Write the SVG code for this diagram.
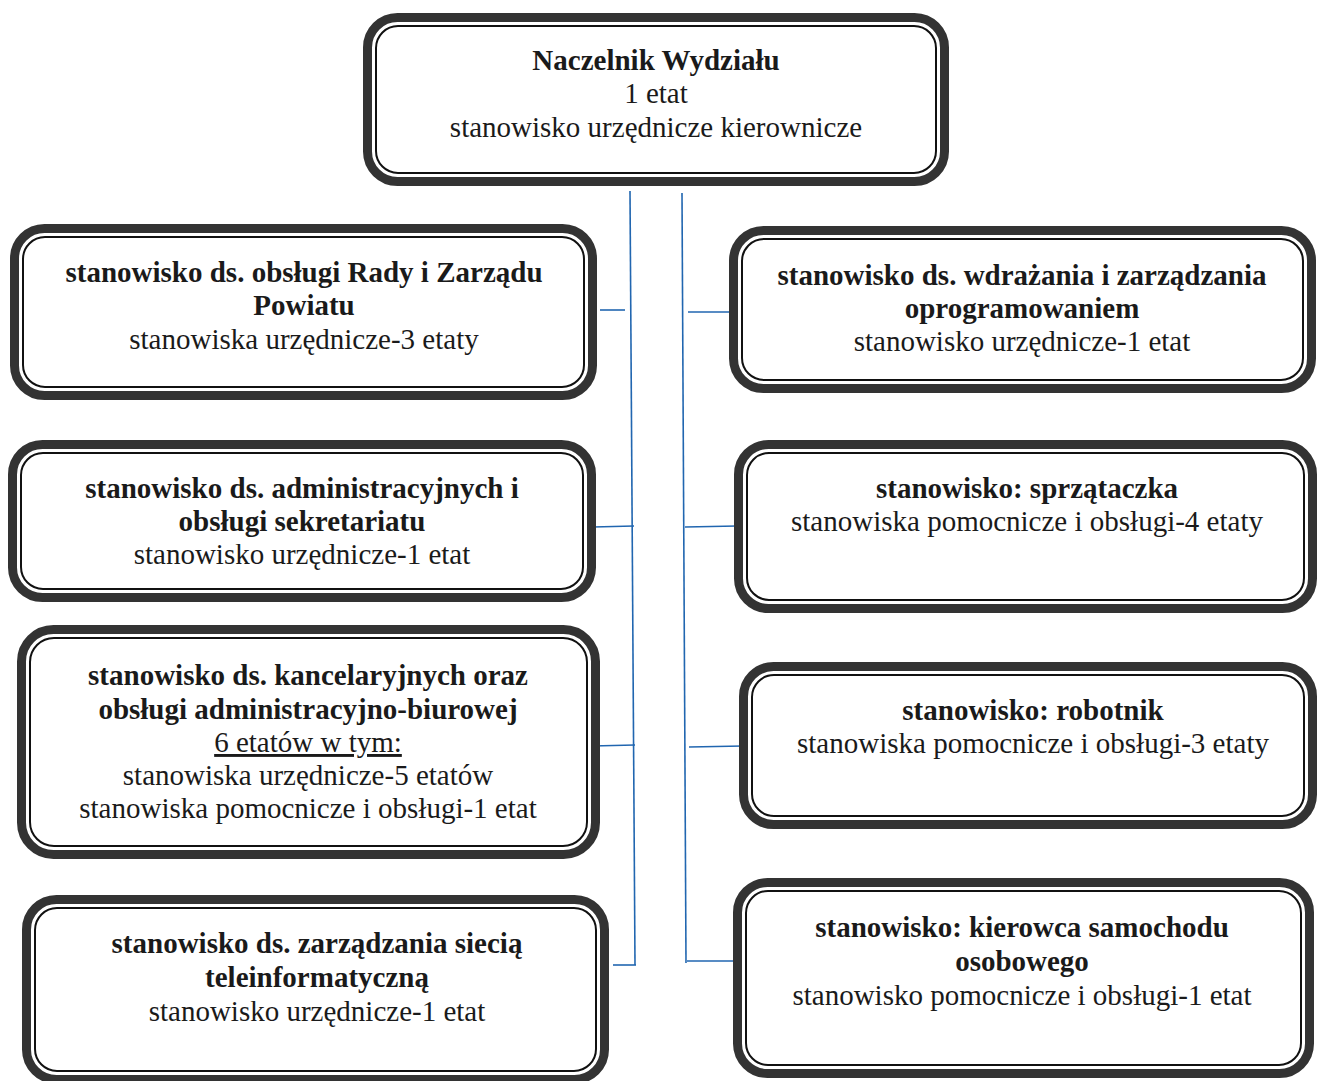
<svg xmlns="http://www.w3.org/2000/svg" width="1317" height="1081" viewBox="0 0 1317 1081">
<style>
.o{fill:#fff;stroke:#333;stroke-width:9}
.i{fill:none;stroke:#111;stroke-width:2}
text{font-family:"Liberation Serif","Times New Roman",serif;font-size:29px;fill:#1a1a1a;text-anchor:middle}
.b{font-weight:bold}
.c line{stroke:#2166b0;stroke-width:1.6}
</style>
<rect width="1317" height="1081" fill="#fff"/>
<g class="c" id="connectors">
<line x1="630" y1="191" x2="635" y2="965"/>
<line x1="682" y1="193" x2="686" y2="963"/>
<line x1="600" y1="310" x2="625" y2="310"/>
<line x1="593" y1="527" x2="634" y2="526"/>
<line x1="592" y1="746" x2="635" y2="745"/>
<line x1="613" y1="965" x2="636" y2="965"/>
<line x1="688" y1="312" x2="733" y2="312"/>
<line x1="685" y1="527" x2="737" y2="526"/>
<line x1="689" y1="747" x2="743" y2="746"/>
<line x1="687" y1="961" x2="733" y2="961"/>
</g>
<g id="n-top">
<rect class="o" x="367.5" y="17.5" width="577" height="164" rx="30"/>
<rect class="i" x="376" y="26" width="560" height="147" rx="22"/>
<text x="656" y="70" class="b">Naczelnik Wydziału</text>
<text x="656" y="103">1 etat</text>
<text x="656" y="137">stanowisko urzędnicze kierownicze</text>
</g>
<g id="n-l1">
<rect class="o" x="14.5" y="228.5" width="578" height="167" rx="30"/>
<rect class="i" x="23" y="237" width="561" height="150" rx="22"/>
<text x="304" y="282" class="b">stanowisko ds. obsługi Rady i Zarządu</text>
<text x="304" y="315" class="b">Powiatu</text>
<text x="304" y="349">stanowiska urzędnicze-3 etaty</text>
</g>
<g id="n-l2">
<rect class="o" x="12.5" y="444.5" width="579" height="153" rx="30"/>
<rect class="i" x="21" y="453" width="562" height="136" rx="22"/>
<text x="302" y="498" class="b">stanowisko ds. administracyjnych i</text>
<text x="302" y="531" class="b">obsługi sekretariatu</text>
<text x="302" y="564">stanowisko urzędnicze-1 etat</text>
</g>
<g id="n-l3">
<rect class="o" x="21.5" y="629.5" width="574" height="225" rx="32"/>
<rect class="i" x="30" y="638" width="557" height="208" rx="24"/>
<text x="308" y="685" class="b">stanowisko ds. kancelaryjnych oraz</text>
<text x="308" y="719" class="b">obsługi administracyjno-biurowej</text>
<text x="308" y="752" text-decoration="underline">6 etatów w tym:</text>
<text x="308" y="785">stanowiska urzędnicze-5 etatów</text>
<text x="308" y="818">stanowiska pomocnicze i obsługi-1 etat</text>
</g>
<g id="n-l4">
<rect class="o" x="26.5" y="899.5" width="578" height="180" rx="30"/>
<rect class="i" x="35" y="908" width="561" height="163" rx="22"/>
<text x="317" y="953" class="b">stanowisko ds. zarządzania siecią</text>
<text x="317" y="987" class="b">teleinformatyczną</text>
<text x="317" y="1021">stanowisko urzędnicze-1 etat</text>
</g>
<g id="n-r1">
<rect class="o" x="733.5" y="230.5" width="578" height="158" rx="30"/>
<rect class="i" x="742" y="239" width="561" height="141" rx="22"/>
<text x="1022" y="285" class="b">stanowisko ds. wdrażania i zarządzania</text>
<text x="1022" y="318" class="b">oprogramowaniem</text>
<text x="1022" y="351">stanowisko urzędnicze-1 etat</text>
</g>
<g id="n-r2">
<rect class="o" x="738.5" y="444.5" width="574" height="164" rx="30"/>
<rect class="i" x="747" y="453" width="557" height="147" rx="22"/>
<text x="1027" y="498" class="b">stanowisko: sprzątaczka</text>
<text x="1027" y="531">stanowiska pomocnicze i obsługi-4 etaty</text>
</g>
<g id="n-r3">
<rect class="o" x="743.5" y="666.5" width="569" height="158" rx="30"/>
<rect class="i" x="752" y="675" width="552" height="141" rx="22"/>
<text x="1033" y="720" class="b">stanowisko: robotnik</text>
<text x="1033" y="753">stanowiska pomocnicze i obsługi-3 etaty</text>
</g>
<g id="n-r4">
<rect class="o" x="737.5" y="882.5" width="572" height="191" rx="30"/>
<rect class="i" x="746" y="891" width="555" height="174" rx="22"/>
<text x="1022" y="937" class="b">stanowisko: kierowca samochodu</text>
<text x="1022" y="971" class="b">osobowego</text>
<text x="1022" y="1005">stanowisko pomocnicze i obsługi-1 etat</text>
</g>
</svg>
